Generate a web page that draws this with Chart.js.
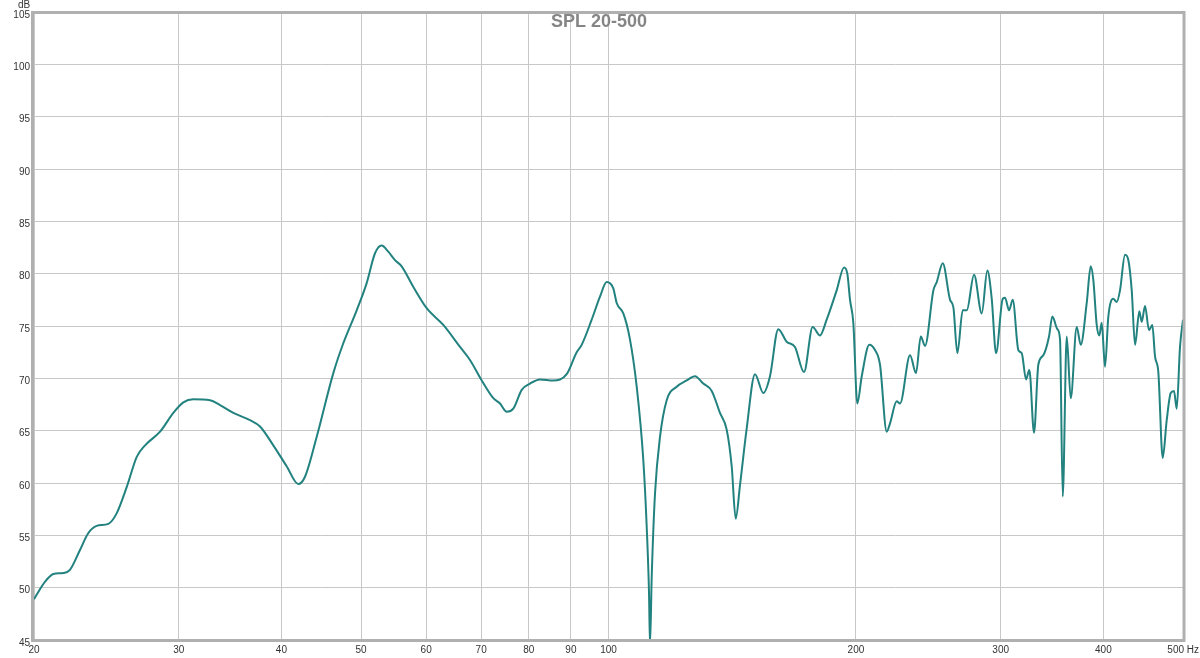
<!DOCTYPE html>
<html><head><meta charset="utf-8">
<script src="https://cdn.jsdelivr.net/npm/chart.js@4.4.1/dist/chart.umd.min.js"></script>
<style>html,body{margin:0;padding:0;background:#fff;overflow:hidden;}</style>
</head><body>
<canvas id="c" width="1200" height="658"></canvas>
<script>
const chartTitle = 'SPL 20-500';
const yUnit = 'dB';
const xUnit = 'Hz';
const xTickValues = [20, 30, 40, 50, 60, 70, 80, 90, 100, 200, 300, 400, 500];
const yMin = 45, yMax = 105, yStep = 5;

const freqs = [
  20, 20.63, 21.11, 21.71, 22.12, 22.75, 23.28, 23.84, 24.63, 25.21,
  25.93, 26.67, 27.30, 28.47, 29.55, 30.39, 31.25, 32.75, 33.68, 34.96,
  36.63, 37.67, 39.10, 40.59, 41.94, 42.73, 44.15, 46.26, 47.57, 49.39,
  50.79, 51.99, 52.97, 53.96, 54.98, 56.02, 57.87, 60.09, 62.95, 65.97,
  67.84, 70.10, 72.42, 73.79, 75.19, 76.59, 78.42, 80.26, 82.54, 85.67,
  88.95, 91.47, 92.76, 95.40, 97.64, 99.49, 101.35, 102.32, 104.24, 106.21,
  108.22, 110.24, 111.30, 112.02, 112.33, 112.87, 113.92, 115.52, 117.71, 121.05,
  124.50, 127.42, 130.42, 133.52, 136.66, 139.25, 141.22, 142.81, 144.54, 147.27,
  150.74, 154.28, 157.21, 160.90, 164.73, 168.60, 172.91, 177.17, 180.84, 184.26,
  189.50, 193.44, 195.25, 196.72, 198.55, 200.78, 203.29, 207.64, 210.98, 213.96,
  218.02, 220.05, 224.22, 226.32, 232.74, 236.68, 239.83, 242.74, 248.45, 250.82,
  255.08, 260.35, 262.77, 265.73, 269.78, 272.82, 278.45, 284.52, 289.01, 292.60,
  296.15, 301.76, 303.71, 307.14, 310.34, 315.24, 318.26, 322.10, 325.10, 329.40,
  333.38, 338.09, 343.54, 346.72, 351.62, 354.29, 356.98, 361.00, 365.06, 371.25,
  375.44, 381.80, 386.10, 388.92, 392.64, 395.51, 398.18, 401.89, 405.62, 411.33,
  415.26, 419.12, 425.05, 429.00, 433.10, 437.12, 442.42, 445.40, 449.53, 454.60,
  458.82, 462.30, 466.60, 472.38, 477.70, 483.08, 487.56, 491.26, 495.83, 500
];
const spl = [
  48.9, 50.57, 51.3, 51.4, 51.7, 53.6, 55.2, 55.9, 56.1, 57.1,
  59.6, 62.5, 63.6, 64.9, 66.7, 67.7, 68.0, 67.9, 67.45, 66.7,
  66.0, 65.4, 63.6, 61.6, 59.9, 60.6, 64.4, 70.5, 73.35, 76.5,
  79.1, 81.95, 82.7, 82.1, 81.3, 80.7, 78.75, 76.7, 75.1, 73.0,
  71.75, 69.8, 68.1, 67.6, 66.8, 67.1, 68.9, 69.5, 69.9, 69.8,
  70.4, 72.5, 73.2, 75.6, 77.8, 79.2, 78.6, 77.2, 76.2, 73.7,
  69.2, 62.2, 55.8, 49.5, 44.5, 51.05, 59.0, 64.4, 67.9, 69.2,
  69.8, 70.2, 69.5, 68.8, 66.7, 65.1, 61.6, 56.6, 59.8, 65.2,
  70.4, 68.6, 70.2, 74.7, 73.5, 73.0, 70.6, 74.9, 74.1, 75.6,
  78.4, 80.6, 80.0, 77.5, 75.3, 67.6, 70.2, 73.2, 72.7, 71.3,
  64.9, 65.7, 67.8, 67.6, 72.2, 70.5, 74.0, 73.1, 78.4, 79.2,
  81.0, 77.5, 76.8, 72.4, 76.5, 76.5, 79.9, 76.2, 80.3, 77.6,
  72.4, 77.6, 77.7, 76.5, 77.5, 72.7, 72.4, 69.9, 70.8, 64.8,
  71.3, 72.2, 74.0, 75.9, 74.7, 73.7, 58.7, 74.0, 68.1, 74.9,
  73.2, 77.2, 80.7, 79.4, 75.1, 74.1, 75.3, 71.1, 75.9, 77.6,
  77.3, 78.4, 81.8, 81.3, 78.4, 73.2, 76.4, 75.4, 76.9, 74.6,
  75.1, 72.1, 70.6, 62.4, 66.0, 68.6, 68.8, 67.1, 73.0, 75.6
];

const FONT = '"Liberation Sans", Arial, sans-serif';
const TICK_COLOR = '#333333';
const GRID_COLOR = 'rgb(200,200,200)';

const overlay = {
  id: 'overlay',
  afterDraw(chart) {
    const ctx = chart.ctx, a = chart.chartArea;
    ctx.save();
    // plot frame
    ctx.strokeStyle = '#b0b0b0';
    ctx.lineWidth = 3;
    ctx.strokeRect(a.left - 1.5, a.top + 0.5, a.right - a.left + 2.5, a.bottom - a.top);
    // title
    ctx.fillStyle = '#858585';
    ctx.font = 'bold 18px ' + FONT;
    ctx.textAlign = 'center';
    ctx.textBaseline = 'middle';
    ctx.fillText(chartTitle, chart.width / 2 - 1, a.top + 10);
    // unit labels
    ctx.fillStyle = TICK_COLOR;
    ctx.font = '10px ' + FONT;
    ctx.textBaseline = 'top';
    ctx.fillText(yUnit, 24, 0);
    ctx.textBaseline = 'middle';
    const xs = chart.scales.x;
    const last = xTickValues[xTickValues.length - 1];
    ctx.textAlign = 'right';
    ctx.fillText(String(last) + ' ' + xUnit, chart.width - 1, xs.top + 10);
    ctx.restore();
  }
};

new Chart(document.getElementById('c'), {
  type: 'line',
  data: {
    datasets: [{
      data: freqs.map((f, i) => ({ x: f, y: spl[i] })),
      borderColor: '#22827f',
      borderWidth: 2,
      pointRadius: 0,
      fill: false,
      cubicInterpolationMode: 'monotone'
    }]
  },
  options: {
    responsive: false,
    animation: false,
    devicePixelRatio: 1,
    layout: { padding: { top: 12, right: 17, bottom: 0, left: 0 } },
    plugins: { legend: { display: false }, tooltip: { enabled: false }, title: { display: false } },
    scales: {
      x: {
        type: 'logarithmic',
        min: xTickValues[0],
        max: xTickValues[xTickValues.length - 1],
        afterBuildTicks(s) { s.ticks = xTickValues.map(v => ({ value: v })); },
        afterFit(s) { s.height = 18; },
        ticks: {
          autoSkip: false, maxRotation: 0, minRotation: 0, padding: 4,
          color: TICK_COLOR, font: { family: FONT, size: 10 },
          callback: (v) => v === xTickValues[xTickValues.length - 1] ? '' : String(v)
        },
        grid: { color: GRID_COLOR, lineWidth: 1, drawTicks: false },
        border: { display: false }
      },
      y: {
        type: 'linear',
        min: yMin, max: yMax,
        afterFit(s) { s.width = 34; },
        ticks: {
          stepSize: yStep, padding: 4, labelOffset: 3,
          color: TICK_COLOR, font: { family: FONT, size: 10 }
        },
        grid: { color: GRID_COLOR, lineWidth: 1, drawTicks: false },
        border: { display: false }
      }
    }
  },
  plugins: [overlay]
});
</script>
</body></html>
